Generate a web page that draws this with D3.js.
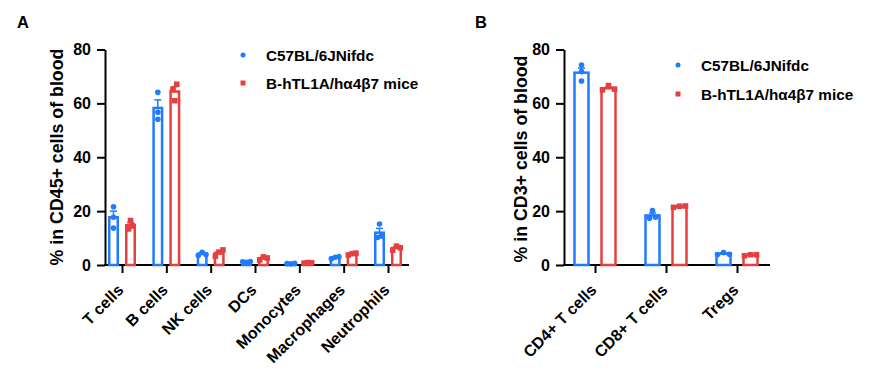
<!DOCTYPE html>
<html>
<head>
<meta charset="utf-8">
<script src="https://cdn.jsdelivr.net/npm/d3@7"></script>
<style>
  body { margin: 0; background: #fff; }
  svg text { font-family: "Liberation Sans", Arial, sans-serif; font-weight: bold; fill: #000; }
</style>
</head>
<body>
<svg id="chart" width="869" height="380"></svg>
<script>
// ---------------- DATA ----------------
const seriesNames = ["C57BL/6JNifdc", "B-hTL1A/hα4β7 mice"];
const yTicks = [0, 20, 40, 60, 80];

// Panel A: % in CD45+ cells of blood
const catsA = ["T cells", "B cells", "NK cells", "DCs", "Monocytes", "Macrophages", "Neutrophils"];
const meanA_wt = [17.7, 58.3, 4.1, 1.2, 0.5, 2.8, 12.0];
const semA_wt  = [2.3, 3.0, 0.4, 0.1, 0.05, 0.25, 1.6];
const ptsA_wt  = [[21.6, 17.7, 13.7], [64.1, 56.7, 54.1], [3.6, 4.7, 3.9], [1.2, 1.0, 1.3], [0.5, 0.4, 0.6], [2.3, 2.9, 3.1], [10.2, 15.2, 10.8]];
const meanA_tg = [14.8, 64.4, 4.5, 2.5, 0.8, 4.1, 6.3];
const semA_tg  = [1.0, 1.8, 0.7, 0.35, 0.06, 0.2, 0.45];
const ptsA_tg  = [[13.4, 16.5, 14.5], [61.0, 65.2, 67.1], [3.3, 4.8, 5.6], [1.9, 3.0, 2.6], [0.7, 0.9, 0.8], [3.7, 4.2, 4.4], [5.5, 7.0, 6.4]];

// Panel B: % in CD3+ cells of blood
const catsB = ["CD4+ T cells", "CD8+ T cells", "Tregs"];
const meanB_wt = [71.4, 18.4, 4.2];
const semB_wt  = [1.7, 0.9, 0.2];
const ptsB_wt  = [[74.2, 71.8, 68.3], [17.4, 20.2, 17.7], [3.9, 4.6, 4.0]];
const meanB_tg = [65.6, 21.7, 3.7];
const semB_tg  = [0.5, 0.15, 0.13];
const ptsB_tg  = [[65.0, 66.6, 65.3], [21.4, 21.8, 21.9], [3.4, 3.8, 3.8]];

// ---------------- STYLE ----------------
const colors = ["#1f7bff", "#e5403f"];
const svg = d3.select("#chart");

function panel(cfg) {
  const g = svg.append("g");
  const y = d3.scaleLinear().domain([0, 80]).range([265, 49.5]);
  const x = d3.scalePoint().domain(cfg.cats).range(cfg.xRange);

  // panel letter
  g.append("text").attr("x", cfg.letterX).attr("y", 28).attr("font-size", 16.5).text(cfg.letter);

  // y axis
  const ya = g.append("g").attr("transform", `translate(${cfg.axisX},0)`)
    .call(d3.axisLeft(y).tickValues(yTicks).tickSize(8).tickSizeOuter(0).tickPadding(6));
  ya.select(".domain").attr("stroke", "#000").attr("stroke-width", 2);
  ya.selectAll(".tick line").attr("stroke", "#000").attr("stroke-width", 2);
  ya.selectAll(".tick text").attr("font-size", 16).attr("font-family", "Liberation Sans, Arial, sans-serif").attr("font-weight", "bold");

  // y title
  g.append("text")
    .attr("transform", `translate(${cfg.titleX},${cfg.titleY}) rotate(-90)`)
    .attr("text-anchor", "middle").attr("font-size", 17.8).text(cfg.title);

  // x axis
  const xa = g.append("g").attr("transform", `translate(0,265)`)
    .call(d3.axisBottom(x).tickSize(8).tickSizeOuter(0));
  xa.select(".domain").remove();
  xa.selectAll(".tick line").attr("stroke", "#000").attr("stroke-width", 2);
  xa.selectAll(".tick text").remove();
  g.append("line").attr("x1", cfg.axisX - 1).attr("x2", cfg.axisEnd).attr("y1", 265).attr("y2", 265)
    .attr("stroke", "#000").attr("stroke-width", 2);

  // x labels rotated
  g.selectAll(".xlab").data(cfg.cats).join("text")
    .attr("transform", d => `translate(${x(d) + 2.5},291) rotate(-45)`)
    .attr("text-anchor", "end").attr("font-size", 16).text(d => d);

  // bars + error + points
  const series = [
    { mean: cfg.mean[0], sem: cfg.sem[0], pts: cfg.pts[0], off: -cfg.off, color: colors[0], shape: "circle" },
    { mean: cfg.mean[1], sem: cfg.sem[1], pts: cfg.pts[1], off: cfg.off, color: colors[1], shape: "square" }
  ];
  const sw = 2.5;
  series.forEach(s => {
    cfg.cats.forEach((c, i) => {
      const cx = x(c) + s.off;
      const m = s.mean[i];
      g.append("rect")
        .attr("x", cx - (cfg.barW - sw) / 2).attr("width", cfg.barW - sw)
        .attr("y", y(m)).attr("height", Math.max(0, y(0) - y(m)))
        .attr("fill", "#fff").attr("stroke", s.color).attr("stroke-width", sw);
      // error bar (upward)
      const ye = y(m + s.sem[i]);
      g.append("line").attr("x1", cx).attr("x2", cx).attr("y1", y(m)).attr("y2", ye)
        .attr("stroke", s.color).attr("stroke-width", 1.5);
      g.append("line").attr("x1", cx - 3.5).attr("x2", cx + 3.5).attr("y1", ye).attr("y2", ye)
        .attr("stroke", s.color).attr("stroke-width", 1.5);
      // points with simple collision spread
      const pys = s.pts[i].map(v => y(v));
      const order = pys.map((p, k) => k).sort((a, b) => pys[a] - pys[b]);
      const clusters = [];
      order.forEach(k => {
        const last = clusters[clusters.length - 1];
        if (last && Math.abs(pys[k] - pys[last[last.length - 1]]) < 5.2) last.push(k);
        else clusters.push([k]);
      });
      const offs = new Array(pys.length).fill(0);
      clusters.forEach(cl => {
        const sorted = cl.slice().sort((a, b) => a - b);
        sorted.forEach((k, j) => { offs[k] = (j - (sorted.length - 1) / 2) * cfg.step; });
      });
      pys.forEach((py, k) => {
        const px = cx + offs[k];
        if (s.shape === "circle") {
          g.append("circle").attr("cx", px).attr("cy", py).attr("r", 2.8).attr("fill", s.color);
        } else {
          g.append("rect").attr("x", px - 2.8).attr("y", py - 2.8).attr("width", 5.6).attr("height", 5.6).attr("fill", s.color);
        }
      });
    });
  });

  // legend
  const lg = g.append("g");
  lg.append("circle").attr("cx", cfg.legX).attr("cy", cfg.legY).attr("r", 2.5).attr("fill", colors[0]);
  lg.append("rect").attr("x", cfg.legX - 2.5).attr("y", cfg.legY + cfg.legGap - 2.5).attr("width", 5).attr("height", 5).attr("fill", colors[1]);
  lg.append("text").attr("x", cfg.legX + 23).attr("y", cfg.legY + 5.5).attr("font-size", 15.3).text(seriesNames[0]);
  lg.append("text").attr("x", cfg.legX + 23).attr("y", cfg.legY + cfg.legGap + 5.5).attr("font-size", 15.3).text(seriesNames[1]);
}

panel({
  letter: "A", letterX: 17, cats: catsA, xRange: [122, 388], axisX: 105, axisEnd: 409,
  title: "% in CD45+ cells of blood", titleX: 63, titleY: 157,
  mean: [meanA_wt, meanA_tg], sem: [semA_wt, semA_tg], pts: [ptsA_wt, ptsA_tg],
  off: 8.5, barW: 11, step: 3.8, legX: 243, legY: 55, legGap: 28
});
panel({
  letter: "B", letterX: 475, cats: catsB, xRange: [595, 737], axisX: 564, axisEnd: 770,
  title: "% in CD3+ cells of blood", titleX: 527, titleY: 159,
  mean: [meanB_wt, meanB_tg], sem: [semB_wt, semB_tg], pts: [ptsB_wt, ptsB_tg],
  off: 13.5, barW: 16.5, step: 6, legX: 678, legY: 65, legGap: 29
});
</script>
</body>
</html>
